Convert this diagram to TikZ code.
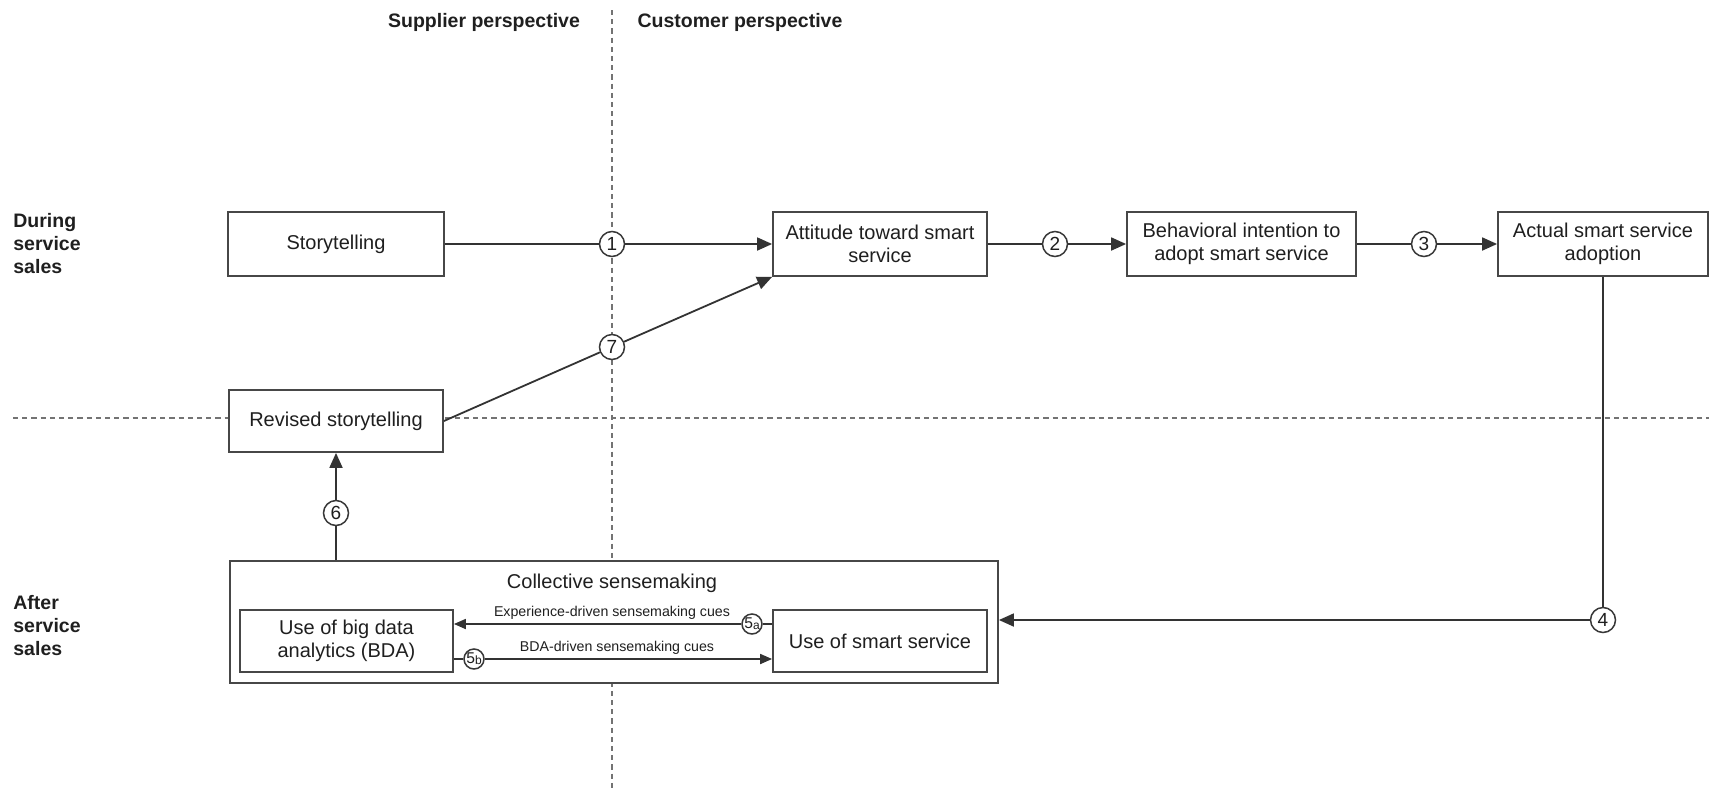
\documentclass[tikz,border=0pt]{standalone}
\usepackage{fontspec}
\setmainfont{Liberation Sans}
\usetikzlibrary{arrows.meta,calc}
\begin{document}
\begin{tikzpicture}[x=0.5pt,y=-0.5pt,
  box/.style={draw=black!72, line width=0.9pt, fill=white, inner sep=1pt, align=center,
    text=black!88, font=\fontsize{10}{11.5}\selectfont},
  num/.style={circle, draw=black!78, line width=0.75pt, fill=white, minimum size=12.5pt,
    inner sep=0pt, text=black!88, font=\fontsize{9.5}{10}\selectfont},
  snum/.style={circle, draw=black!78, line width=0.75pt, fill=white, minimum size=10pt,
    inner sep=0pt, text=black!88, font=\fontsize{7.8}{8}\selectfont},
  conn/.style={draw=black!80, line width=0.9pt},
  arr/.style={conn, -{Triangle[length=7.5pt,width=6.5pt]}},
  sarr/.style={conn, -{Triangle[length=6pt,width=5pt]}},
  sep/.style={draw=black!55, line width=0.8pt, dash pattern=on 2.6pt off 2pt},
  lbl/.style={font=\fontsize{9.75}{11.5}\selectfont\bfseries, text=black!88},
  cue/.style={font=\fontsize{7.1}{8}\selectfont, text=black!88, inner sep=0pt}
]
\useasboundingbox (0,0) rectangle (1709,788);

% separators
\coordinate (vtop) at (612,10);
\coordinate (vbot) at (612,788);
\coordinate (hl) at (13,418);
\coordinate (hr) at (1709,418);
\draw[sep] (vtop) -- (vbot);
\draw[sep] (hl) -- (hr);

% headings
\node[lbl] (supp) at (484,22) {Supplier perspective};
\node[lbl] (cust) at (740,22) {Customer perspective};
\node[lbl, anchor=west, align=left, inner sep=0pt] (during) at (13,244) {During\\service\\sales};
\node[lbl, anchor=west, align=left, inner sep=0pt] (after) at (13,626) {After\\service\\sales};

% boxes
\node[box, minimum width=108pt, minimum height=32pt] (story) at (336,244) {Storytelling};
\node[box, minimum width=107pt, minimum height=32pt] (att) at (880,244) {Attitude toward smart\\service};
\node[box, minimum width=114.5pt, minimum height=32pt] (beh) at (1241.5,244) {Behavioral intention to\\adopt smart service};
\node[box, minimum width=105pt, minimum height=32pt] (act) at (1603,244) {Actual smart service\\adoption};
\node[box, minimum width=107pt, minimum height=31pt] (rev) at (336,421) {Revised storytelling};
\node[box, minimum width=384pt, minimum height=61pt] (coll) at (614,622) {};
\node[font=\fontsize{10}{11.5}\selectfont, text=black!88] (colltitle) at (612,583) {Collective sensemaking};
\node[box, minimum width=106.5pt, minimum height=31pt] (bda) at (346.5,641) {Use of big data\\analytics (BDA)};
\node[box, minimum width=107pt, minimum height=31pt] (smart) at (880,641) {Use of smart service};

% number circles
\node[num] (c1) at (612,244) {1};
\node[num] (c2) at (1055,244) {2};
\node[num] (c3) at (1424,244) {3};
\node[num] (c4) at (1603,620) {4};
\node[num] (c6) at (336,513) {6};
\node[num] (c7) at (612,347) {7};
\node[snum] (c5a) at (752,624) {5\raisebox{-0.4pt}{\fontsize{6}{6}\selectfont a}};
\node[snum] (c5b) at (474,659) {5\raisebox{-0.4pt}{\fontsize{6}{6}\selectfont b}};

% connectors
\draw[conn] (story.east) -- (c1.west);
\draw[arr] (c1.east) -- (att.west);
\draw[conn] (att.east) -- (c2.west);
\draw[arr] (c2.east) -- (beh.west);
\draw[conn] (beh.east) -- (c3.west);
\draw[arr] (c3.east) -- (act.west);
\draw[conn] (act.south) -- (c4.north);
\draw[arr] (c4.west) -- (c4 -| coll.east);
\draw[conn] (coll.north -| c6) -- (c6.south);
\draw[arr] (c6.north) -- (rev.south);
\draw[conn] (rev.east) -- (c7);
\draw[arr] (c7) -- (att.south west);
\draw[conn] (smart.west |- c5a) -- (c5a.east);
\draw[sarr] (c5a.west) -- (bda.east |- c5a);
\draw[conn] (bda.east |- c5b) -- (c5b.west);
\draw[sarr] (c5b.east) -- (smart.west |- c5b);

% cue labels
\node[cue] (cuea) at (612,613) {Experience-driven sensemaking cues};
\node[cue] (cueb) at (617,648) {BDA-driven sensemaking cues};
\end{tikzpicture}
\end{document}
